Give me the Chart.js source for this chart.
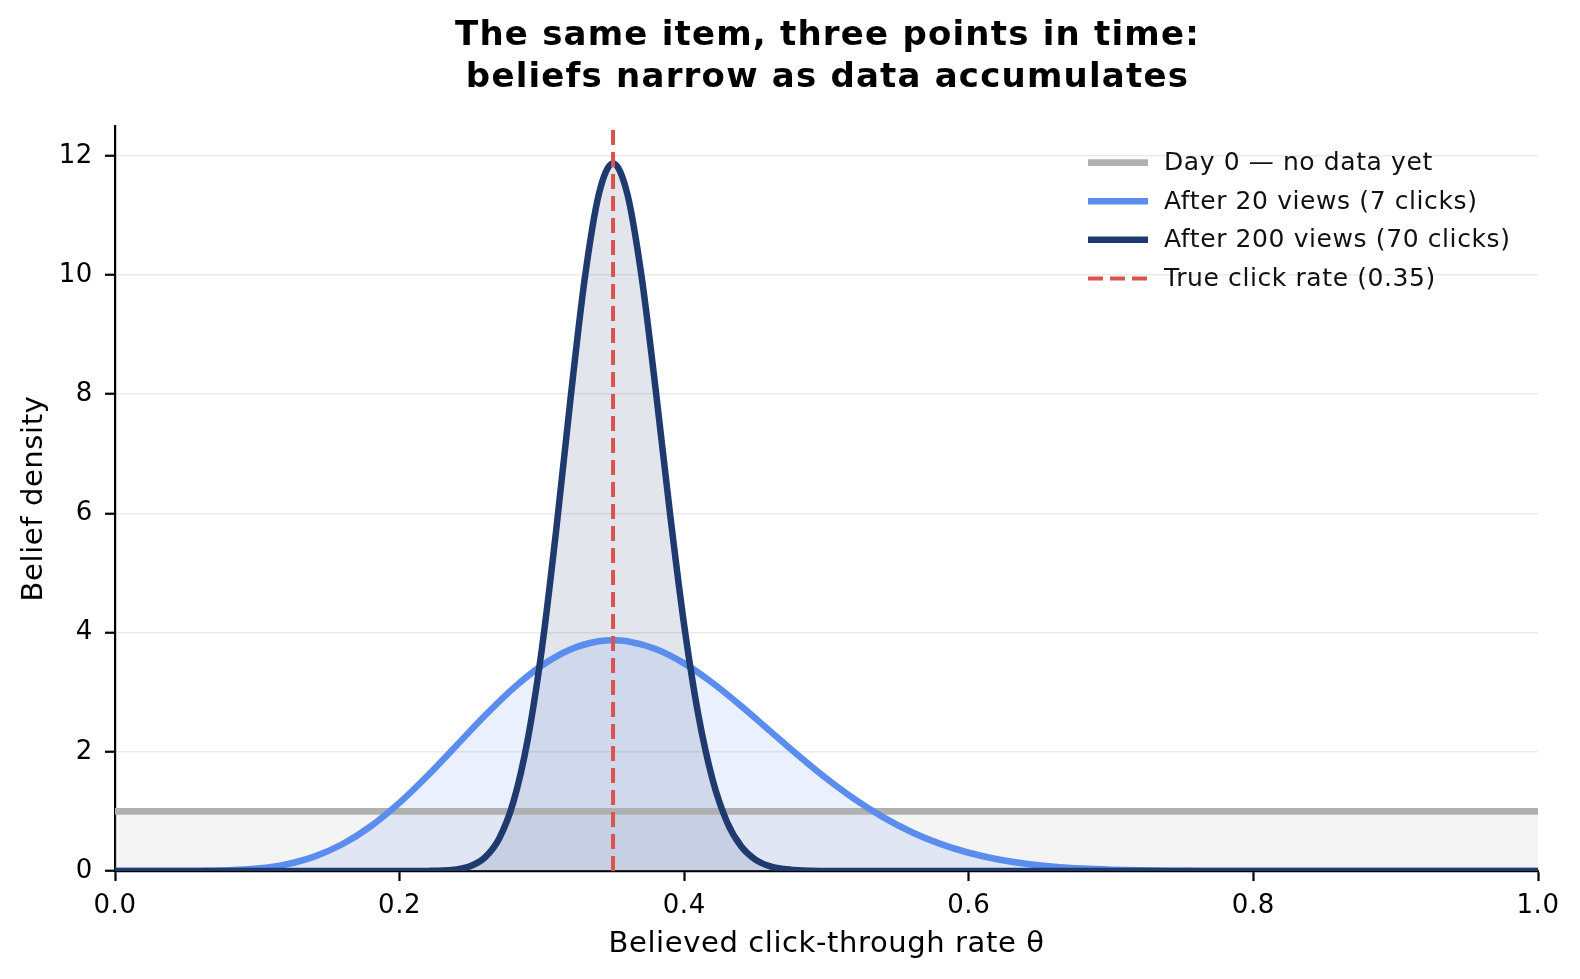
<!DOCTYPE html>
<html>
<head>
<meta charset="utf-8">
<script src="https://cdn.jsdelivr.net/npm/chart.js@4"></script>
<style>
  body { margin: 0; background: #fff; }
  canvas { display: block; }
</style>
</head>
<body>
<canvas id="beliefChart" width="1580" height="979"></canvas>
<script>
// Values

// Day 0 - flat belief
const priorX = [0, 1];
const priorY = [1, 1];

// After 20 views (7 clicks)
const earlyX = [0, 0.02, 0.04, 0.06, 0.08, 0.10, 0.12, 0.14, 0.16, 0.18, 0.20, 0.22, 0.24, 0.26, 0.28, 0.30,
  0.32, 0.34, 0.35, 0.36, 0.38, 0.40, 0.42, 0.44, 0.46, 0.48, 0.50, 0.52, 0.54, 0.56, 0.58, 0.60, 0.62,
  0.64, 0.66, 0.68, 0.70, 0.72, 0.74, 0.76, 0.78, 0.80, 0.85, 1];
const earlyY = [0, 0, 0.0002, 0.002, 0.0115, 0.041, 0.111, 0.242, 0.453, 0.755, 1.146, 1.606, 2.107, 2.608, 3.069, 3.449,
  3.718, 3.855, 3.872, 3.855, 3.725, 3.483, 3.154, 2.768, 2.355, 1.942, 1.552, 1.202, 0.900, 0.651, 0.455, 0.306, 0.198,
  0.122, 0.072, 0.040, 0.021, 0.011, 0.005, 0.002, 0.001, 0.0003, 0, 0];

// After 200 views (70 clicks)
const lateX = [0, 0.20, 0.21, 0.22, 0.23, 0.24, 0.25, 0.26, 0.27, 0.28, 0.29, 0.30, 0.31, 0.32, 0.33, 0.34, 0.35,
  0.36, 0.37, 0.38, 0.39, 0.40, 0.41, 0.42, 0.43, 0.44, 0.45, 0.46, 0.47, 0.48, 0.49, 0.50, 1];
const lateY = [0, 0.0001, 0.0004, 0.0018, 0.0075, 0.027, 0.084, 0.229, 0.547, 1.162, 2.200, 3.732, 5.710, 7.901, 9.923, 11.356, 11.87,
  11.364, 9.984, 8.069, 6.003, 4.118, 2.610, 1.528, 0.827, 0.414, 0.192, 0.082, 0.033, 0.012, 0.004, 0.001, 0];

// True click rate marker
const trueRate = 0.35;
const yTop = 12.5;
const yTicks = [0, 2, 4, 6, 8, 10, 12];

const seriesLabels = ['Day 0 \u2014 no data yet', 'After 20 views (7 clicks)', 'After 200 views (70 clicks)', 'True click rate (0.35)'];
const titleLines = ['The same item, three points in time:', 'beliefs narrow as data accumulates'];

const toPoints = (xs, ys) => xs.map((x, i) => ({ x: x, y: ys[i] }));

const FONT = "'DejaVu Sans', sans-serif";

// a little extra letter spacing, closer to the reference text widths
const spacing = {
  id: 'spacing',
  beforeUpdate(chart) { chart.ctx.letterSpacing = '0.6px'; },
  beforeDraw(chart) { chart.ctx.letterSpacing = '0.6px'; }
};

// legend drawn inside the plot, top right
const innerLegend = {
  id: 'innerLegend',
  afterDraw(chart) {
    const ctx = chart.ctx;
    const items = [
      { color: '#b0b0b0', width: 6.8, dash: [] },
      { color: '#5b8def', width: 6.5, dash: [] },
      { color: '#1f3a6e', width: 6.5, dash: [] },
      { color: '#d9534f', width: 4, dash: [15, 7] }
    ];
    ctx.save();
    ctx.font = '25px ' + FONT;
    ctx.letterSpacing = '0.6px';
    ctx.textBaseline = 'middle';
    ctx.fillStyle = '#111';
    items.forEach((it, i) => {
      const y = 162.6 + i * 38.6;
      ctx.beginPath();
      ctx.setLineDash(it.dash);
      ctx.lineWidth = it.width;
      ctx.strokeStyle = it.color;
      ctx.moveTo(1088, y);
      ctx.lineTo(1148, y);
      ctx.stroke();
      ctx.setLineDash([]);
      ctx.fillText(seriesLabels[i], 1164, y + 1);
    });
    ctx.restore();
  }
};

// two line bold title centred over plot area
const chartTitle = {
  id: 'chartTitle',
  afterDraw(chart) {
    const ctx = chart.ctx;
    const cx = (chart.chartArea.left + chart.chartArea.right) / 2;
    ctx.save();
    ctx.font = 'bold 34px ' + FONT;
    ctx.letterSpacing = '1.2px';
    ctx.fillStyle = '#000';
    ctx.textAlign = 'center';
    ctx.textBaseline = 'alphabetic';
    ctx.fillText(titleLines[0], cx + 1, 45);
    ctx.fillText(titleLines[1], cx + 1, 86.5);
    ctx.restore();
  }
};

var ctx = document.getElementById('beliefChart').getContext('2d');

var beliefChart = new Chart(ctx, {
  type: 'line',
  data: {
    datasets: [{
      label: seriesLabels[3],
      data: [{ x: trueRate, y: 0 }, { x: trueRate, y: yTop }],
      borderColor: '#d9534f',
      borderWidth: 4,
      borderDash: [15, 7],
      pointRadius: 0,
      fill: false,
      order: 0
    }, {
      label: seriesLabels[2],
      data: toPoints(lateX, lateY),
      borderColor: '#1f3a6e',
      backgroundColor: 'rgba(31, 58, 110, 0.13)',
      borderWidth: 6.5,
      pointRadius: 0,
      cubicInterpolationMode: 'monotone',
      fill: 'origin',
      order: 1
    }, {
      label: seriesLabels[1],
      data: toPoints(earlyX, earlyY),
      borderColor: '#5b8def',
      backgroundColor: 'rgba(91, 141, 239, 0.13)',
      borderWidth: 6.5,
      pointRadius: 0,
      cubicInterpolationMode: 'monotone',
      fill: 'origin',
      order: 2
    }, {
      label: seriesLabels[0],
      data: toPoints(priorX, priorY),
      borderColor: '#b0b0b0',
      backgroundColor: 'rgba(176, 176, 176, 0.14)',
      borderWidth: 6.8,
      pointRadius: 0,
      fill: 'origin',
      order: 3
    }]
  },
  options: {
    responsive: false,
    animation: false,
    layout: { padding: { left: 0, right: 42, top: 126, bottom: 0 } },
    plugins: {
      legend: { display: false },
      title: { display: false },
      tooltip: { enabled: false },
      filler: { drawTime: 'beforeDatasetsDraw' }
    },
    scales: {
      x: {
        type: 'linear',
        min: 0,
        max: 1,
        afterFit: (s) => { s.height = 108; },
        grid: { display: true, drawOnChartArea: false, drawTicks: true, tickLength: 10, tickColor: '#000', tickWidth: 2.2 },
        border: { display: true, color: '#000', width: 2.2 },
        ticks: {
          stepSize: 0.2,
          color: '#000',
          padding: 10,
          font: { family: FONT, size: 26 },
          callback: (v) => v.toFixed(1),
          maxRotation: 0
        },
        title: {
          display: true,
          text: 'Believed click-through rate \u03b8',
          color: '#000',
          font: { family: FONT, size: 29 },
          padding: { top: 0, bottom: 17 }
        }
      },
      y: {
        min: 0,
        max: yTop,
        afterFit: (s) => { s.width = 115; },
        grid: { color: '#ebebeb', lineWidth: 1.5, drawTicks: true, tickLength: 10, tickColor: '#000', tickWidth: 2.2 },
        border: { display: true, color: '#000', width: 2.2 },
        afterBuildTicks: (s) => { s.ticks = yTicks.map(v => ({ value: v })); },
        ticks: {
          color: '#000',
          padding: 12,
          font: { family: FONT, size: 26 }
        },
        title: {
          display: true,
          text: 'Belief density',
          color: '#000',
          font: { family: FONT, size: 29 },
          padding: { top: 17.5, bottom: 0 }
        }
      }
    }
  },
  plugins: [spacing, chartTitle, innerLegend]
});
</script>
</body>
</html>
